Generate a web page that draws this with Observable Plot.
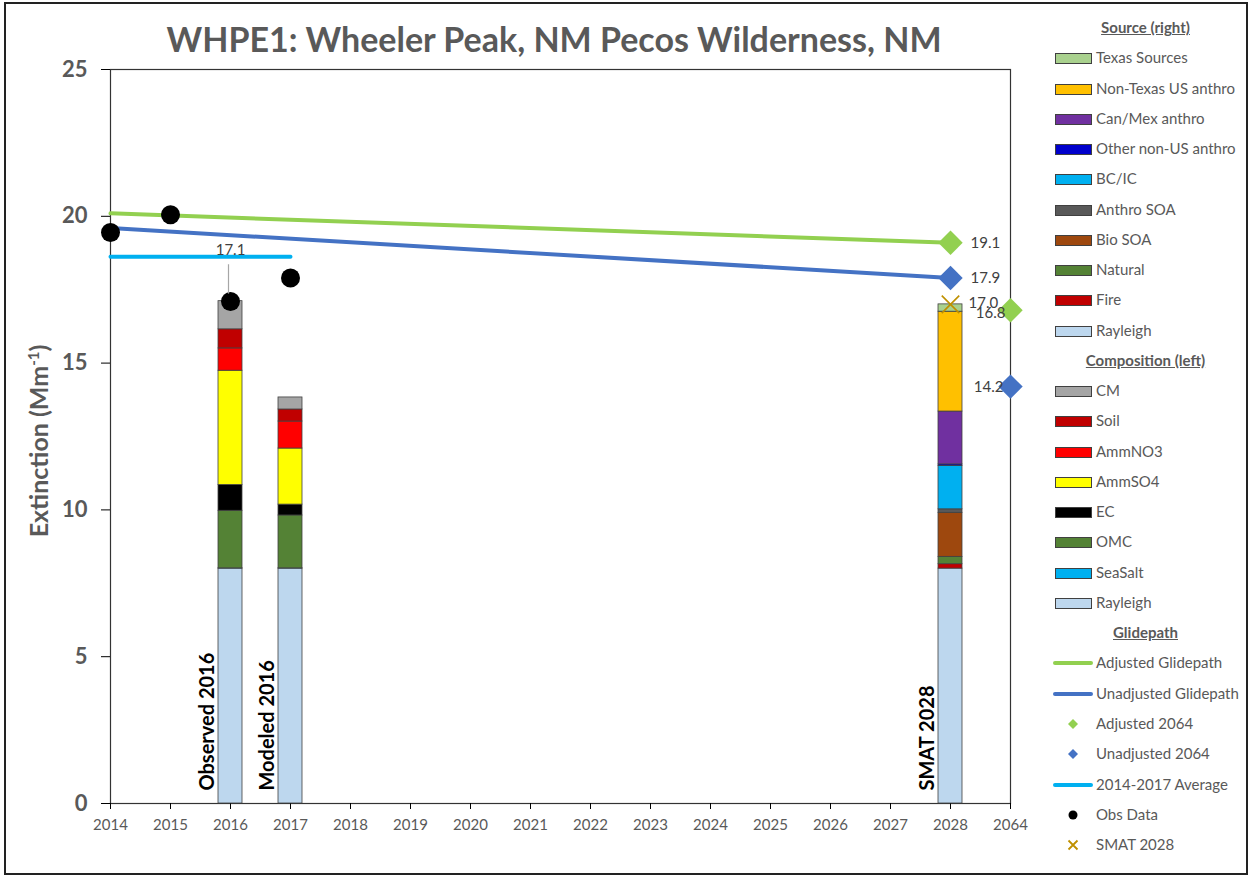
<!DOCTYPE html>
<html><head><meta charset="utf-8">
<script src="https://cdn.jsdelivr.net/npm/d3@7"></script>
<script src="https://cdn.jsdelivr.net/npm/@observablehq/plot@0.6"></script>
<style>
body{margin:0;background:#fff;font-family:Lato,"Open Sans",sans-serif;}
#wrap{position:relative;width:1251px;height:877px;overflow:hidden;background:#fff;}
#border{position:absolute;left:4px;top:2px;width:1240px;height:869px;border:2px solid #222;box-sizing:content-box;pointer-events:none;}
#plot{position:absolute;left:0;top:0;}
#title{position:absolute;top:18px;left:554px;transform:translateX(-50%);white-space:nowrap;font:bold 34px Lato,sans-serif;color:#595959;}
#ylab{position:absolute;left:38px;top:441px;transform:translate(-50%,-50%) rotate(-90deg);white-space:nowrap;font:bold 25px Lato,sans-serif;color:#595959;}
#ylab sup{font-size:15px;}
.lg{position:absolute;left:1053px;height:20px;width:195px;font-size:15px;color:#595959;white-space:nowrap;}
.lg .sw{position:absolute;left:2px;top:5px;width:35px;height:9px;border:1px solid #404040;}
.lg .ln{position:absolute;left:0;top:8px;width:40px;height:4px;border-radius:2px;}
.lg .tx{position:absolute;left:43px;top:0px;}
.lg.hd{font-weight:bold;text-decoration:underline;text-align:center;}
.lg.hd .tx{position:static;display:block;width:185px;}
</style></head>
<body><div id="wrap"><div id="plot"></div><div id="title">WHPE1: Wheeler Peak, NM Pecos Wilderness, NM</div><div id="ylab">Extinction (Mm<sup>-1</sup>)</div><div id="legend"></div><div id="border"></div></div>
<script>
// ---------- data ----------
const years = ["2014","2015","2016","2017","2018","2019","2020","2021","2022","2023","2024","2025","2026","2027","2028","2064"];

const compSpecies = ["Rayleigh","SeaSalt","OMC","EC","AmmSO4","AmmNO3","Soil","CM"];
const compColors  = ["#BDD7EE","#00B0F0","#548235","#000000","#FFFF00","#FF0000","#C00000","#A5A5A5"];
const observed2016 = [8.0, 0.01, 1.96, 0.88, 3.89, 0.76, 0.65, 0.96];
const modeled2016  = [8.0, 0.01, 1.80, 0.37, 1.91, 0.92, 0.41, 0.41];

const sourceCats   = ["Rayleigh","Fire","Natural","Bio SOA","Anthro SOA","BC/IC","Other non-US anthro","Can/Mex anthro","Non-Texas US anthro","Texas Sources"];
const sourceColors = ["#BDD7EE","#C00000","#548235","#9E480E","#595959","#00B0F0","#0000CC","#7030A0","#FFC000","#A9D18E"];
const smat2028     = [8.0, 0.15, 0.25, 1.50, 0.12, 1.48, 0.05, 1.80, 3.40, 0.25];

const barYears  = ["2016","2017","2028"];
const barLabels = ["Observed 2016","Modeled 2016","SMAT 2028"];

const glideYears      = ["2014","2028"];
const adjustedGlide   = [20.1, 19.1];
const unadjustedGlide = [19.6, 17.9];
const adjusted2064    = 16.8;
const unadjusted2064  = 14.2;

const obsYears  = ["2014","2015","2016","2017"];
const obsValues = [19.45, 20.05, 17.1, 17.9];
const smatValue = 17.0;

const yTicks = [0,5,10,15,20,25];

// ---------- build ----------
const xi = y => years.indexOf(y);
function stackRows(year, cats, vals, colors){
  const tops = d3.cumsum(vals);
  return cats.map((c,k)=>({x: xi(year), cat:c, color:colors[k], y1: tops[k]-vals[k], y2: tops[k]}));
}
const bars = [
  ...stackRows(barYears[0], compSpecies, observed2016, compColors),
  ...stackRows(barYears[1], compSpecies, modeled2016, compColors),
  ...stackRows(barYears[2], sourceCats, smat2028, sourceColors)
];
const barText = barYears.map((y,k)=>({x: xi(y), label: barLabels[k]}));
const adjLine = glideYears.map((y,k)=>({x: xi(y), v: adjustedGlide[k]}));
const unadjLine = glideYears.map((y,k)=>({x: xi(y), v: unadjustedGlide[k]}));
const avg = d3.mean(obsValues);
const avgLine = [obsYears[0], obsYears[obsYears.length-1]].map(y=>({x: xi(y), v: avg}));
const obs = obsYears.map((y,k)=>({x: xi(y), v: obsValues[k]}));
const fmt = d3.format(".1f");
const i2028 = xi("2028"), i2064 = xi("2064"), i2016 = xi("2016");
const obs2016 = obsValues[obsYears.indexOf("2016")];

const grey = "#404040";
const chart = Plot.plot({
  width: 1040, height: 877,
  marginLeft: 110, marginRight: 30, marginTop: 69, marginBottom: 74,
  style: {fontFamily: "Lato, sans-serif", background: "transparent"},
  x: {type: "linear", domain: [0, years.length-1]},
  y: {domain: [0, 25]},
  marks: [
    Plot.frame({stroke: "#333", strokeWidth: 1.2}),
    Plot.axisY({ticks: yTicks, tickSize: 9, tickPadding: 14, fontSize: 22, fontWeight: "bold", fill: "#595959", stroke: "#000", label: null}),
    Plot.axisX({ticks: d3.range(years.length), tickFormat: i => years[i], tickSize: 6, tickPadding: 10, fontSize: 15, fill: "#595959", stroke: "#000", label: null}),
    Plot.rect(bars, {x1: d => d.x - 0.2, x2: d => d.x + 0.2, y1: "y1", y2: "y2", fill: "color", stroke: grey, strokeWidth: 0.8}),
    Plot.text(barText, {x: "x", y: () => 0, text: "label", rotate: -90, textAnchor: "start", dx: -23, dy: -13, fontSize: 20, fontWeight: "bold", fill: "#000"}),
    Plot.line(avgLine, {x: "x", y: "v", stroke: "#00B0F0", strokeWidth: 4, strokeLinecap: "round"}),
    Plot.line(adjLine, {x: "x", y: "v", stroke: "#92D050", strokeWidth: 4, strokeLinecap: "round"}),
    Plot.line(unadjLine, {x: "x", y: "v", stroke: "#4472C4", strokeWidth: 4, strokeLinecap: "round"}),
    Plot.dot(obs, {x: "x", y: "v", r: 9.5, fill: "#000"}),
    Plot.dot([{x: i2028, v: adjustedGlide[1]}], {x: "x", y: "v", symbol: "diamond2", r: 11, fill: "#92D050"}),
    Plot.dot([{x: i2028, v: unadjustedGlide[1]}], {x: "x", y: "v", symbol: "diamond2", r: 11, fill: "#4472C4"}),
    Plot.dot([{x: i2064, v: adjusted2064}], {x: "x", y: "v", symbol: "diamond2", r: 11, fill: "#92D050"}),
    Plot.dot([{x: i2064, v: unadjusted2064}], {x: "x", y: "v", symbol: "diamond2", r: 11, fill: "#4472C4"}),
    Plot.dot([{x: i2028, v: smatValue}], {x: "x", y: "v", symbol: "times", r: 8, stroke: "#BF9000", strokeWidth: 1.6}),
    Plot.ruleX([{x: i2016, v: obs2016}], {x: "x", y1: d => d.v + 0.25, y2: d => d.v + 1.25, stroke: "#A6A6A6", strokeWidth: 1.2, dx: -2}),
    Plot.text([{x: i2016, v: obs2016}], {x: "x", y: "v", text: d => fmt(d.v), dy: -51, fontSize: 15, fill: grey}),
    Plot.text([{x: i2028, v: adjustedGlide[1]}], {x: "x", y: "v", text: d => fmt(d.v), textAnchor: "start", dx: 20, fontSize: 15, fill: grey}),
    Plot.text([{x: i2028, v: unadjustedGlide[1]}], {x: "x", y: "v", text: d => fmt(d.v), textAnchor: "start", dx: 20, fontSize: 15, fill: grey}),
    Plot.text([{x: i2028, v: smatValue}], {x: "x", y: "v", text: d => fmt(d.v), textAnchor: "start", dx: 18, dy: -1, fontSize: 15, fill: grey}),
    Plot.text([{x: i2064, v: adjusted2064}], {x: "x", y: "v", text: d => fmt(d.v), textAnchor: "end", dx: -5, dy: 3, fontSize: 15, fill: grey}),
    Plot.text([{x: i2064, v: unadjusted2064}], {x: "x", y: "v", text: d => fmt(d.v), textAnchor: "end", dx: -7, dy: 1, fontSize: 15, fill: grey})
  ]
});
document.getElementById("plot").appendChild(chart);

// ---------- legend ----------
const legendItems = [];
legendItems.push({type:"hd", label:"Source (right)"});
for (let k = sourceCats.length-1; k >= 0; k--) legendItems.push({type:"sw", label: sourceCats[k], color: sourceColors[k]});
legendItems.push({type:"hd", label:"Composition (left)"});
for (let k = compSpecies.length-1; k >= 0; k--) legendItems.push({type:"sw", label: compSpecies[k], color: compColors[k]});
legendItems.push({type:"hd", label:"Glidepath"});
legendItems.push({type:"ln", label:"Adjusted Glidepath", color:"#92D050"});
legendItems.push({type:"ln", label:"Unadjusted Glidepath", color:"#4472C4"});
legendItems.push({type:"dia", label:"Adjusted 2064", color:"#92D050"});
legendItems.push({type:"dia", label:"Unadjusted 2064", color:"#4472C4"});
legendItems.push({type:"ln", label:"2014-2017 Average", color:"#00B0F0"});
legendItems.push({type:"dot", label:"Obs Data", color:"#000"});
legendItems.push({type:"x", label:"SMAT 2028", color:"#BF9000"});

const lg = document.getElementById("legend");
legendItems.forEach((it, k) => {
  const cy = 28 + k * 30.26;
  const row = document.createElement("div");
  row.className = "lg" + (it.type === "hd" ? " hd" : "");
  row.style.top = (cy - 10) + "px";
  let sym = "";
  if (it.type === "sw") sym = `<div class="sw" style="background:${it.color}"></div>`;
  else if (it.type === "ln") sym = `<div class="ln" style="background:${it.color}"></div>`;
  else if (it.type === "dia") sym = `<svg style="position:absolute;left:14px;top:4px" width="12" height="12"><path d="M6 1L11 6L6 11L1 6Z" fill="${it.color}"/></svg>`;
  else if (it.type === "dot") sym = `<svg style="position:absolute;left:14px;top:4px" width="12" height="12"><circle cx="6" cy="6" r="4.5" fill="${it.color}"/></svg>`;
  else if (it.type === "x") sym = `<svg style="position:absolute;left:14px;top:4px" width="12" height="12"><path d="M1.5 1.5L10.5 10.5M10.5 1.5L1.5 10.5" stroke="${it.color}" stroke-width="1.8"/></svg>`;
  row.innerHTML = sym + `<span class="tx">${it.label}</span>`;
  lg.appendChild(row);
});
</script>
</body></html>
